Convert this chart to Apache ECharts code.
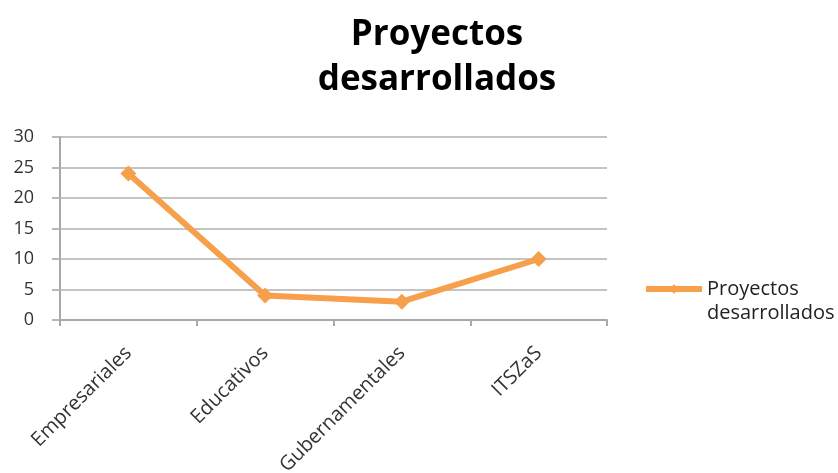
<!DOCTYPE html>
<html><head><meta charset="utf-8">
<script src="https://cdn.jsdelivr.net/npm/echarts@6/dist/echarts.min.js"></script>
<style>html,body{margin:0;padding:0;background:#fff}#c{width:838px;height:473px}</style>
</head><body><div id="c"></div>
<script>
const categories = ["Empresariales", "Educativos", "Gubernamentales", "ITSZaS"];
const values = [24, 4, 3, 10];
const yTicks = [0, 5, 10, 15, 20, 25, 30];
const seriesName = "Proyectos desarrollados";
const titleText = "Proyectos\ndesarrollados";

const chart = echarts.init(document.getElementById('c'));
const font = "'Open Sans', 'Noto Sans', sans-serif";
chart.setOption({
  animation: false,
  title: {
    text: titleText, left: 432, top: 8, textAlign: 'center',
    textStyle: { fontFamily: font, fontWeight: 'bold', fontSize: 35, lineHeight: 45, color: '#000' }
  },
  legend: {
    data: [seriesName],
    orient: 'vertical', left: 643, top: 253, padding: 0,
    itemWidth: 56, itemHeight: 12, itemGap: 0,
    lineStyle: { width: 6, color: '#f7a04c' },
    formatter: () => ' \nProyectos\ndesarrollados',
    textStyle: { fontFamily: font, fontSize: 20, color: '#222', lineHeight: 24 }
  },
  grid: { left: 60, right: 231, top: 137, bottom: 153, outerBoundsMode: 'none', containLabel: false },
  xAxis: {
    type: 'category', data: categories, boundaryGap: true,
    axisLine: { lineStyle: { color: '#a8a8a8', width: 2 } },
    axisTick: { show: true, length: 6, lineStyle: { color: '#a8a8a8', width: 2 } },
    axisLabel: { rotate: 45, fontFamily: font, fontSize: 20, color: '#333', margin: 30, interval: 0 }
  },
  yAxis: {
    type: 'value', min: yTicks[0], max: yTicks[yTicks.length - 1], interval: 5,
    axisLine: { show: true, lineStyle: { color: '#a8a8a8', width: 2 } },
    axisTick: { show: true, length: 8, lineStyle: { color: '#b8b8b8', width: 2 } },
    splitLine: { lineStyle: { color: '#c4c4c4', width: 2 } },
    axisLabel: { fontFamily: font, fontSize: 18, color: '#333', margin: 26 }
  },
  series: [{
    name: seriesName, type: 'line', data: values,
    symbol: 'diamond', symbolSize: 16,
    lineStyle: { color: '#f7a04c', width: 6 },
    itemStyle: { color: '#f7a04c' }
  }]
});
</script></body></html>
